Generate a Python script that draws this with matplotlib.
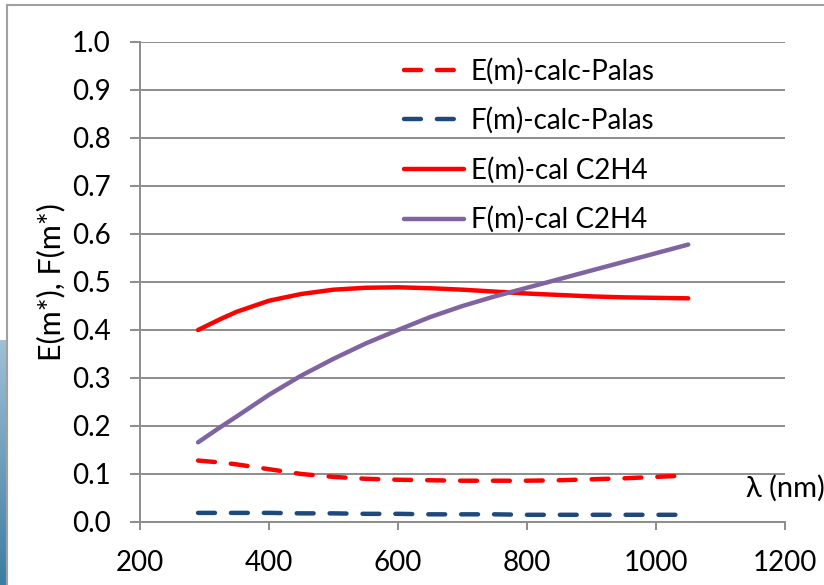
import numpy as np
import matplotlib
matplotlib.use('Agg')
import matplotlib.pyplot as plt
from matplotlib.lines import Line2D

plt.rcParams['font.family'] = ['Lato', 'DejaVu Sans']

# wavelength grid (nm)
wl = [290, 325, 350, 400, 450, 500, 550, 600, 650, 700, 750, 800, 850, 900, 950, 1000, 1050]

# values
e_palas = [0.128, 0.124, 0.120, 0.110, 0.100, 0.094, 0.090, 0.088, 0.087, 0.086, 0.086, 0.086, 0.087, 0.089, 0.091, 0.094, 0.097]
f_palas = [0.019, 0.019, 0.019, 0.019, 0.018, 0.018, 0.017, 0.017, 0.016, 0.016, 0.016, 0.015, 0.015, 0.015, 0.015, 0.015, 0.015]
e_c2h4 = [0.400, 0.423, 0.438, 0.461, 0.475, 0.484, 0.488, 0.489, 0.487, 0.484, 0.480, 0.476, 0.473, 0.470, 0.468, 0.467, 0.466]
f_c2h4 = [0.166, 0.198, 0.220, 0.265, 0.305, 0.340, 0.372, 0.400, 0.427, 0.450, 0.470, 0.488, 0.506, 0.524, 0.542, 0.560, 0.578]

labels = ['E(m)-calc-Palas', 'F(m)-calc-Palas', 'E(m)-cal C2H4', 'F(m)-cal C2H4']
yticks = np.round(np.arange(0, 1.01, 0.1), 1)
xticks = [200, 400, 600, 800, 1000, 1200]

grid_col = '#8c8c8c'

fig = plt.figure(figsize=(8.24, 5.85), dpi=100)
ax = fig.add_axes([140/824, 1 - 522/585, 645/824, 480/585])

ax.plot(wl, e_palas, color='#ff0000', lw=3.2, dashes=(3.8, 3.6), dash_capstyle='round', label=labels[0])
ax.plot(wl, f_palas, color='#1f497d', lw=3.2, dashes=(3.8, 3.6), dash_capstyle='round', label=labels[1])
ax.plot(wl, e_c2h4, color='#ff0000', lw=3.2, solid_capstyle='round', label=labels[2])
ax.plot(wl, f_c2h4, color='#8064a2', lw=3.2, solid_capstyle='round', label=labels[3])

ax.set_xlim(200, 1200)
ax.set_ylim(0, 1.0)
ax.set_xticks(xticks)
ax.set_yticks(yticks)
ax.set_yticklabels([f'{v:.1f}' for v in yticks])
ax.yaxis.grid(True, color=grid_col, lw=1.4)
ax.set_axisbelow(True)
for s in ['top', 'right']:
    ax.spines[s].set_visible(False)
for s in ['left', 'bottom']:
    ax.spines[s].set_color(grid_col)
    ax.spines[s].set_linewidth(1.4)
ax.tick_params(axis='y', length=7, width=1.4, color=grid_col, labelsize=20, pad=14)
ax.tick_params(axis='x', length=6, width=1.4, color=grid_col, labelsize=20, pad=14)

ax.set_ylabel('E(m*), F(m*)', fontsize=22, labelpad=5)
ax.text(1.0, 0.07, 'λ (nm)', transform=ax.transAxes, fontsize=21, ha='center', va='center')

leg = ax.legend(loc='upper left', bbox_to_anchor=(0.371, 1.02), frameon=False, fontsize=20,
                handlelength=2.15, handletextpad=0.25, labelspacing=0.82)
leg.set_zorder(5)

# outer frame of the original picture
fig.add_artist(Line2D([7/824, 1], [1 - 5/585, 1 - 5/585], color='#a0a0a0', lw=1.5))
fig.add_artist(Line2D([7/824, 7/824], [0, 1 - 5/585], color='#a0a0a0', lw=1.5))

# blue strip at the left edge
strip = fig.add_axes([0, 0, 6/824, 245/585])
strip.imshow(np.linspace(0, 1, 100).reshape(-1, 1), aspect='auto', cmap=matplotlib.colors.LinearSegmentedColormap.from_list('s', ['#9fc0d6', '#3c7ea3']))
strip.axis('off')

fig.savefig('out.png', dpi=100)
